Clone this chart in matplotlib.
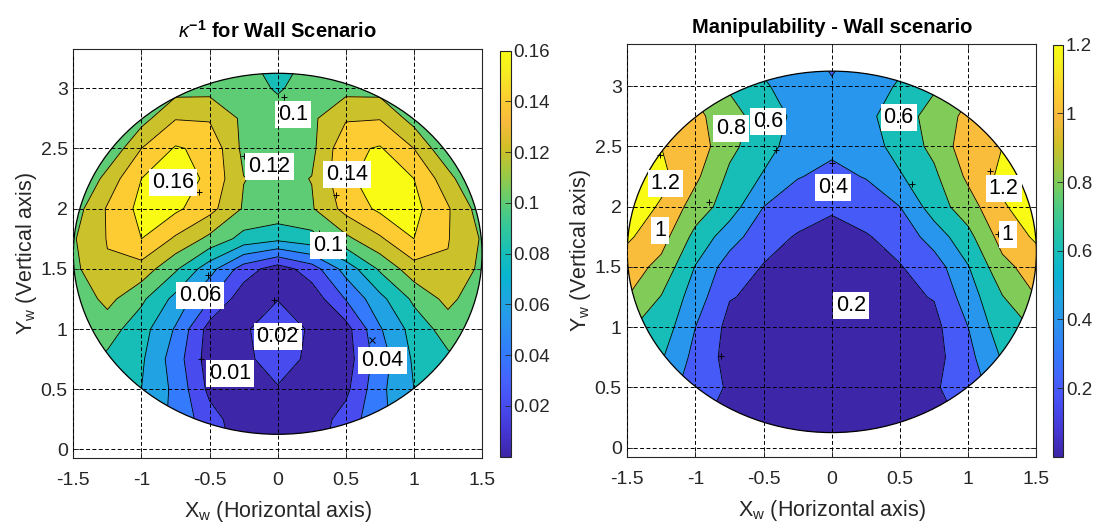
import numpy as np
import matplotlib
matplotlib.use("Agg")
import matplotlib.pyplot as plt
from matplotlib.colors import LinearSegmentedColormap, Normalize
from matplotlib.cm import ScalarMappable
from matplotlib.patches import Circle

plt.rcParams['font.family'] = ['Liberation Sans']
plt.rcParams['mathtext.fontset'] = 'custom'
plt.rcParams['mathtext.rm'] = 'Liberation Sans'
plt.rcParams['mathtext.it'] = 'Liberation Sans:italic'
plt.rcParams['mathtext.bf'] = 'Liberation Sans:bold'
plt.rcParams['axes.unicode_minus'] = False

# sample grid of the workspace
x_grid = [-1.5, -1.25, -1.0, -0.75, -0.5, -0.25, 0.0, 0.25, 0.5, 0.75, 1.0, 1.25, 1.5]
y_grid = [0.0, 0.25, 0.5, 0.75, 1.0, 1.25, 1.5, 1.75, 2.0, 2.25, 2.5, 2.75, 3.0, 3.25]

# inverse condition number, one row per y_grid value
kappa_inv = [
    [0.080, 0.075, 0.070, 0.055, 0.035, 0.010, 0.005, 0.010, 0.035, 0.055, 0.070, 0.075, 0.080],
    [0.090, 0.085, 0.075, 0.055, 0.028, 0.008, 0.010, 0.008, 0.028, 0.055, 0.075, 0.085, 0.090],
    [0.100, 0.095, 0.080, 0.055, 0.015, 0.010, 0.019, 0.010, 0.015, 0.055, 0.080, 0.095, 0.100],
    [0.105, 0.096, 0.083, 0.050, 0.010, 0.017, 0.026, 0.017, 0.010, 0.050, 0.083, 0.096, 0.105],
    [0.110, 0.109, 0.088, 0.058, 0.012, 0.018, 0.028, 0.018, 0.012, 0.058, 0.088, 0.109, 0.110],
    [0.105, 0.126, 0.104, 0.074, 0.041, 0.008, 0.0195, 0.008, 0.041, 0.074, 0.104, 0.126, 0.105],
    [0.115, 0.138, 0.132, 0.103, 0.068, 0.030, 0.010, 0.030, 0.068, 0.103, 0.132, 0.138, 0.115],
    [0.118, 0.141, 0.160, 0.137, 0.115, 0.093, 0.085, 0.093, 0.115, 0.137, 0.160, 0.141, 0.118],
    [0.110, 0.142, 0.166, 0.164, 0.147, 0.118, 0.115, 0.118, 0.147, 0.164, 0.166, 0.142, 0.110],
    [0.090, 0.128, 0.160, 0.170, 0.156, 0.1205, 0.115, 0.1205, 0.156, 0.170, 0.160, 0.128, 0.090],
    [0.090, 0.102, 0.140, 0.162, 0.155, 0.115, 0.113, 0.115, 0.155, 0.162, 0.140, 0.102, 0.090],
    [0.095, 0.105, 0.112, 0.139, 0.138, 0.116, 0.108, 0.116, 0.138, 0.139, 0.112, 0.105, 0.095],
    [0.095, 0.100, 0.105, 0.112, 0.113, 0.108, 0.098, 0.108, 0.113, 0.112, 0.105, 0.100, 0.095],
    [0.090, 0.095, 0.100, 0.105, 0.110, 0.104, 0.090, 0.104, 0.110, 0.105, 0.100, 0.095, 0.090],
]

# manipulability, one row per y_grid value
manip = [
    [0.50, 0.40, 0.20, 0.10, 0.08, 0.06, 0.05, 0.06, 0.08, 0.10, 0.20, 0.40, 0.50],
    [0.55, 0.45, 0.24, 0.14, 0.09, 0.07, 0.06, 0.07, 0.09, 0.14, 0.24, 0.45, 0.55],
    [0.65, 0.52, 0.29, 0.18, 0.10, 0.08, 0.07, 0.08, 0.10, 0.18, 0.29, 0.52, 0.65],
    [0.75, 0.62, 0.34, 0.13, 0.11, 0.09, 0.08, 0.09, 0.11, 0.13, 0.34, 0.62, 0.75],
    [0.82, 0.72, 0.40, 0.14, 0.13, 0.10, 0.09, 0.10, 0.13, 0.14, 0.40, 0.72, 0.82],
    [1.00, 0.79, 0.50, 0.21, 0.16, 0.12, 0.11, 0.12, 0.16, 0.21, 0.50, 0.79, 1.00],
    [1.10, 0.94, 0.59, 0.30, 0.19, 0.15, 0.14, 0.15, 0.19, 0.30, 0.59, 0.94, 1.10],
    [1.23, 1.08, 0.74, 0.49, 0.27, 0.185, 0.175, 0.185, 0.27, 0.49, 0.74, 1.08, 1.23],
    [1.30, 1.18, 0.91, 0.70, 0.40, 0.29, 0.21, 0.29, 0.40, 0.70, 0.91, 1.18, 1.30],
    [1.30, 1.25, 1.04, 0.76, 0.58, 0.41, 0.35, 0.41, 0.58, 0.76, 1.04, 1.25, 1.30],
    [1.25, 1.20, 1.12, 0.85, 0.68, 0.50, 0.44, 0.50, 0.68, 0.85, 1.12, 1.20, 1.25],
    [1.15, 1.15, 1.06, 0.86, 0.73, 0.54, 0.46, 0.54, 0.73, 0.86, 1.06, 1.15, 1.15],
    [1.05, 1.00, 0.95, 0.78, 0.62, 0.52, 0.42, 0.52, 0.62, 0.78, 0.95, 1.00, 1.05],
    [0.95, 0.90, 0.85, 0.70, 0.55, 0.46, 0.36, 0.46, 0.55, 0.70, 0.85, 0.90, 0.95],
]

kappa_levels = [0.02, 0.04, 0.06, 0.08, 0.10, 0.12, 0.14, 0.16]
manip_levels = [0.2, 0.4, 0.6, 0.8, 1.0, 1.2]

kappa_cticks = [0.02, 0.04, 0.06, 0.08, 0.10, 0.12, 0.14, 0.16]
kappa_cticklabels = ['0.02', '0.04', '0.06', '0.08', '0.1', '0.12', '0.14', '0.16']
manip_cticks = [0.2, 0.4, 0.6, 0.8, 1.0, 1.2]
manip_cticklabels = ['0.2', '0.4', '0.6', '0.8', '1', '1.2']

# contour labels: text, text position, marker position, marker
kappa_labels = [
    ('0.1', (0.11, 2.78), (0.05, 2.93), '+'),
    ('0.12', (-0.06, 2.35), (-0.25, 2.44), '+'),
    ('0.16', (-0.77, 2.22), (-0.58, 2.14), '+'),
    ('0.14', (0.51, 2.28), (0.43, 2.11), '+'),
    ('0.1', (0.37, 1.69), (0.30, 1.80), '+'),
    ('0.06', (-0.57, 1.28), (-0.51, 1.45), '+'),
    ('0.02', (0.00, 0.94), (-0.03, 1.24), '+'),
    ('0.01', (-0.35, 0.63), (-0.56, 0.75), '+'),
    ('0.04', (0.77, 0.74), (0.69, 0.91), 'x'),
]
manip_labels = [
    ('0.8', (-0.74, 2.65), (-0.90, 2.04), '+'),
    ('0.6', (-0.47, 2.71), (-0.41, 2.47), '+'),
    ('0.6', (0.49, 2.74), (0.59, 2.19), '+'),
    ('1.2', (-1.22, 2.19), (-1.26, 2.43), '+'),
    ('1', (-1.26, 1.80), (-1.22, 1.77), '+'),
    ('1.2', (1.26, 2.15), (1.16, 2.30), '+'),
    ('1', (1.29, 1.77), (1.22, 1.77), '+'),
    ('0.4', (0.01, 2.16), (0.00, 2.36), '+'),
    ('0.2', (0.14, 1.18), (-0.81, 0.76), '+'),
]

x_ticks = [-1.5, -1.0, -0.5, 0.0, 0.5, 1.0, 1.5]
x_ticklabels = ['-1.5', '-1', '-0.5', '0', '0.5', '1', '1.5']
y_ticks = [0.0, 0.5, 1.0, 1.5, 2.0, 2.5, 3.0]
y_ticklabels = ['0', '0.5', '1', '1.5', '2', '2.5', '3']

CENTER = (0.0, 1.625)
RADIUS = 1.5

parula = LinearSegmentedColormap.from_list('parula', [
    (0.0, (0.2422, 0.1504, 0.6603)), (4 / 63, (0.2706, 0.2147, 0.8364)),
    (8 / 63, (0.2813, 0.3006, 0.9414)), (12 / 63, (0.2699, 0.3892, 0.9906)),
    (16 / 63, (0.1963, 0.4847, 0.9892)), (20 / 63, (0.1687, 0.5703, 0.9359)),
    (24 / 63, (0.1248, 0.6459, 0.8883)), (28 / 63, (0.0297, 0.7082, 0.8163)),
    (32 / 63, (0.0964, 0.7500, 0.7120)), (36 / 63, (0.2161, 0.7843, 0.5923)),
    (40 / 63, (0.3909, 0.8029, 0.4354)), (44 / 63, (0.6174, 0.7876, 0.2612)),
    (48 / 63, (0.8203, 0.7498, 0.1535)), (52 / 63, (0.9728, 0.7298, 0.2394)),
    (56 / 63, (0.9892, 0.8136, 0.1885)), (60 / 63, (0.9628, 0.9373, 0.1265)),
    (1.0, (0.9769, 0.9839, 0.0805)),
])

DARK = (0.15, 0.15, 0.15)


def draw_panel(fig, ax, cax, z, levels, vmax, cticks, cticklabels, labels, title, ylim):
    norm = Normalize(0, vmax)
    fill_levels = [-100.0] + levels + [100.0]
    colors = [parula(norm(0.0))] + [parula(norm(l)) for l in levels]

    disk = Circle(CENTER, RADIUS, transform=ax.transData)
    cs = ax.contourf(x_grid, y_grid, z, levels=fill_levels, colors=colors, zorder=1)
    cs.set_clip_path(disk)
    cl = ax.contour(x_grid, y_grid, z, levels=levels, colors='k', linewidths=0.6, zorder=1.5)
    cl.set_clip_path(disk)
    ax.add_patch(Circle(CENTER, RADIUS, facecolor='none', edgecolor='k', lw=0.9, zorder=2))

    for text, (tx, ty), (mx, my), mk in labels:
        ax.plot([mx], [my], marker=mk, color='k', ms=4, mew=0.7, zorder=2.2)
        ax.text(tx, ty, text, ha='center', va='center', fontsize=15.5, zorder=2.3,
                bbox=dict(facecolor='white', edgecolor='none', pad=2.2))

    ax.set_xlim(-1.5, 1.5)
    ax.set_ylim(*ylim)
    ax.set_xticks(x_ticks)
    ax.set_xticklabels(x_ticklabels)
    ax.set_yticks(y_ticks)
    ax.set_yticklabels(y_ticklabels)
    ax.tick_params(direction='in', length=4, width=0.6, labelsize=14, colors=DARK,
                   top=True, right=True)
    ax.tick_params(axis='x', pad=10)
    ax.tick_params(axis='y', pad=4)
    ax.grid(True, ls=(0, (4, 2.5)), color='k', lw=0.7)
    ax.set_axisbelow(False)
    for sp in ax.spines.values():
        sp.set_color(DARK)
        sp.set_linewidth(0.8)

    ax.set_title(title, fontsize=14.5, fontweight='bold', pad=8)
    ax.set_xlabel(r'$\mathregular{X_w}$ (Horizontal axis)', fontsize=15.5, color=DARK, labelpad=7)
    ax.set_ylabel(r'$\mathregular{Y_w}$ (Vertical axis)', fontsize=15.5, color=DARK, labelpad=1)

    sm = ScalarMappable(norm=norm, cmap=parula)
    cb = fig.colorbar(sm, cax=cax, ticks=cticks)
    cb.ax.set_yticklabels(cticklabels)
    cb.ax.tick_params(direction='in', length=4, width=0.6, labelsize=13.5, colors=DARK, pad=2)
    cb.outline.set_linewidth(0.8)
    cb.outline.set_edgecolor(DARK)


fig = plt.figure(figsize=(10.93, 5.27), dpi=100)
ax1 = fig.add_axes([0.0671, 0.1309, 0.3739, 0.7755])
cax1 = fig.add_axes([0.4575, 0.1334, 0.0098, 0.7704])
ax2 = fig.add_axes([0.5739, 0.1323, 0.3743, 0.7837])
cax2 = fig.add_axes([0.9637, 0.1334, 0.0091, 0.7818])

draw_panel(fig, ax1, cax1, kappa_inv, kappa_levels, 0.16, kappa_cticks, kappa_cticklabels,
           kappa_labels, r'$\kappa^{\mathbf{-1}}$ for Wall Scenario', (-0.072, 3.324))
draw_panel(fig, ax2, cax2, manip, manip_levels, 1.2, manip_cticks, manip_cticklabels,
           manip_labels, 'Manipulability - Wall scenario', (-0.08, 3.348))

fig.savefig('out.png', dpi=100)
